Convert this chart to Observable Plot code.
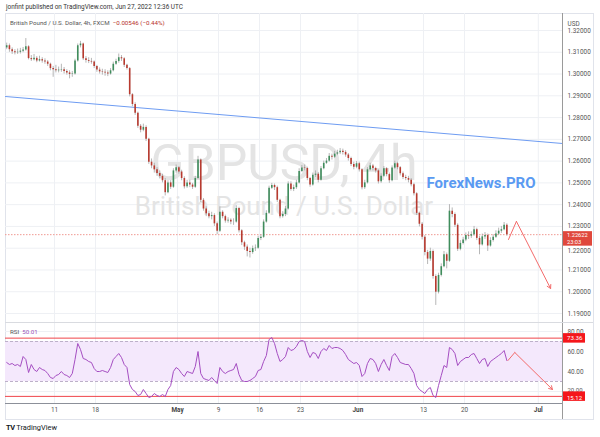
<!DOCTYPE html>
<html><head><meta charset="utf-8">
<script src="https://cdn.jsdelivr.net/npm/d3@7"></script>
<script src="https://cdn.jsdelivr.net/npm/@observablehq/plot@0.6"></script>
<style>
body{margin:0;background:#fff;font-family:Roboto,"Liberation Sans",sans-serif;}
#wrap{position:relative;width:600px;height:437px;overflow:hidden;background:#fff;}
.abs{position:absolute;line-height:1;white-space:nowrap;}
#wrap svg{position:absolute;left:0;}
</style></head><body><div id="wrap">
<div class="abs" style="left:5px;top:13px;width:587px;height:405px;border:1px solid #e0e3eb;"></div>
</div>
<script>
// ---- data (8h candles) ----
const open0 = 1.3120;
const close = [
1.3130,1.3112,1.3102,1.3098,1.3100,1.3105,1.3110,1.3125,1.3071,1.3066,
1.3072,1.3060,1.3066,1.3060,1.3055,1.3045,1.3025,1.3020,1.3015,1.3018,
1.3020,1.3012,1.3005,1.2998,1.3000,1.3060,1.3130,1.3138,1.3070,1.3062,
1.3058,1.3055,1.3035,1.3018,1.3010,1.3008,1.3005,1.3000,1.3015,1.3045,
1.3058,1.3075,1.3070,1.3040,1.3025,1.2905,1.2860,1.2820,1.2760,1.2742,
1.2755,1.2700,1.2595,1.2578,1.2560,1.2543,1.2530,1.2510,1.2455,1.2500,
1.2480,1.2555,1.2570,1.2550,1.2520,1.2482,1.2500,1.2490,1.2480,1.2520,
1.2605,1.2420,1.2380,1.2358,1.2345,1.2350,1.2312,1.2278,1.2365,1.2345,
1.2325,1.2328,1.2320,1.2320,1.2382,1.2280,1.2225,1.2205,1.2185,1.2180,
1.2198,1.2200,1.2245,1.2250,1.2320,1.2360,1.2475,1.2488,1.2478,1.2420,
1.2345,1.2355,1.2380,1.2495,1.2470,1.2478,1.2500,1.2552,1.2568,1.2566,
1.2520,1.2490,1.2535,1.2540,1.2512,1.2565,1.2590,1.2600,1.2622,1.2618,
1.2632,1.2638,1.2645,1.2640,1.2628,1.2612,1.2585,1.2572,1.2588,1.2560,
1.2478,1.2500,1.2560,1.2578,1.2566,1.2555,1.2505,1.2530,1.2565,1.2538,
1.2510,1.2568,1.2588,1.2570,1.2542,1.2525,1.2520,1.2512,1.2492,1.2450,
1.2360,1.2310,1.2250,1.2180,1.2150,1.2185,1.2070,1.1998,1.2075,1.2115,
1.2170,1.2140,1.2370,1.2355,1.2305,1.2195,1.2222,1.2238,1.2258,1.2255,
1.2262,1.2285,1.2245,1.2215,1.2252,1.2258,1.2210,1.2235,1.2250,1.2265,
1.2278,1.2285,1.2305,1.2262];
const high = [
1.3142,1.3138,1.3120,1.3112,1.3115,1.3118,1.3122,1.3163,1.3130,1.3085,
1.3090,1.3080,1.3082,1.3075,1.3070,1.3062,1.3050,1.3035,1.3040,1.3032,
1.3045,1.3030,1.3020,1.3015,1.3012,1.3068,1.3138,1.3150,1.3142,1.3080,
1.3075,1.3072,1.3060,1.3040,1.3028,1.3022,1.3020,1.3015,1.3025,1.3055,
1.3068,1.3092,1.3085,1.3075,1.3045,1.3030,1.2910,1.2868,1.2825,1.2768,
1.2770,1.2762,1.2705,1.2610,1.2590,1.2570,1.2555,1.2540,1.2520,1.2510,
1.2510,1.2565,1.2582,1.2575,1.2558,1.2528,1.2512,1.2512,1.2498,1.2530,
1.2622,1.2610,1.2428,1.2390,1.2370,1.2365,1.2358,1.2320,1.2390,1.2372,
1.2352,1.2340,1.2335,1.2335,1.2395,1.2388,1.2285,1.2232,1.2215,1.2200,
1.2210,1.2215,1.2255,1.2262,1.2330,1.2372,1.2485,1.2498,1.2495,1.2485,
1.2425,1.2368,1.2392,1.2505,1.2505,1.2490,1.2512,1.2565,1.2580,1.2582,
1.2572,1.2525,1.2545,1.2555,1.2548,1.2575,1.2600,1.2612,1.2635,1.2632,
1.2645,1.2650,1.2658,1.2655,1.2648,1.2635,1.2618,1.2595,1.2598,1.2595,
1.2565,1.2512,1.2570,1.2590,1.2585,1.2572,1.2560,1.2542,1.2575,1.2570,
1.2545,1.2578,1.2600,1.2595,1.2575,1.2550,1.2535,1.2530,1.2520,1.2498,
1.2455,1.2365,1.2318,1.2258,1.2190,1.2200,1.2192,1.2078,1.2085,1.2128,
1.2185,1.2178,1.2400,1.2385,1.2362,1.2312,1.2235,1.2250,1.2270,1.2275,
1.2275,1.2300,1.2292,1.2255,1.2265,1.2272,1.2265,1.2248,1.2262,1.2280,
1.2292,1.2300,1.2318,1.2312];
const low = [
1.3112,1.3100,1.3090,1.3088,1.3090,1.3092,1.3098,1.3105,1.3065,1.3058,
1.3060,1.3052,1.3055,1.3050,1.3045,1.3035,1.3015,1.2985,1.3005,1.3005,
1.3008,1.3000,1.2995,1.2978,1.2985,1.2995,1.3055,1.3120,1.3062,1.3050,
1.3048,1.3045,1.3025,1.3008,1.3000,1.2995,1.2990,1.2988,1.2995,1.3010,
1.3040,1.3050,1.3058,1.3030,1.3018,1.2895,1.2850,1.2810,1.2750,1.2730,
1.2735,1.2690,1.2585,1.2565,1.2545,1.2530,1.2518,1.2500,1.2440,1.2450,
1.2470,1.2475,1.2545,1.2540,1.2510,1.2472,1.2475,1.2478,1.2470,1.2475,
1.2515,1.2410,1.2370,1.2345,1.2335,1.2330,1.2300,1.2262,1.2272,1.2335,
1.2315,1.2315,1.2308,1.2305,1.2315,1.2270,1.2212,1.2190,1.2160,1.2155,
1.2172,1.2185,1.2195,1.2235,1.2245,1.2315,1.2355,1.2470,1.2465,1.2410,
1.2335,1.2338,1.2345,1.2375,1.2462,1.2460,1.2470,1.2495,1.2548,1.2555,
1.2510,1.2480,1.2485,1.2525,1.2500,1.2508,1.2560,1.2585,1.2595,1.2605,
1.2612,1.2625,1.2630,1.2628,1.2618,1.2600,1.2575,1.2560,1.2565,1.2550,
1.2468,1.2470,1.2495,1.2555,1.2555,1.2545,1.2495,1.2498,1.2525,1.2528,
1.2498,1.2505,1.2562,1.2560,1.2532,1.2515,1.2510,1.2500,1.2482,1.2440,
1.2350,1.2298,1.2238,1.2165,1.2125,1.2140,1.2058,1.1937,1.1990,1.2068,
1.2110,1.2105,1.2135,1.2340,1.2295,1.2185,1.2188,1.2215,1.2230,1.2240,
1.2245,1.2255,1.2235,1.2170,1.2210,1.2240,1.2185,1.2205,1.2228,1.2245,
1.2258,1.2268,1.2280,1.2255];
const rsi = [
49,47,48,46,47,45,55,52,39,47,
42,40,44,42,41,38,34,33,36,37,
40,37,36,34,38,52,68,62,53,52,
50,49,43,40,40,41,40,39,44,52,
55,58,54,47,44,27,22,20,16,17,
22,18,14,15,18,16,15,17,15,22,
26,40,44,42,38,35,40,39,38,45,
60,38,33,32,31,34,31,28,44,40,
38,40,41,42,48,37,31,30,30,31,
33,35,41,42,50,56,72,74,68,58,
50,52,55,64,61,62,65,70,71,70,
60,54,59,58,53,60,63,61,66,63,
64,64,63,61,57,52,50,48,49,46,
35,38,48,53,52,48,40,47,52,46,
41,55,58,54,49,48,47,47,43,38,
26,22,20,18,22,24,16,14,26,36,
46,44,64,62,58,46,50,52,54,54,
57,58,53,48,52,53,45,50,52,54,
56,58,61,51];
const priceTicks = [1.19,1.20,1.21,1.22,1.23,1.24,1.25,1.26,1.27,1.28,1.29,1.30,1.31,1.32];
const rsiTicks = [20,40,60,80];
const dateLabels = ["11","18","May","9","16","23","Jun","13","20","Jul"];
const dateDays = [6,11,21,26,31,36,43,51,56,65];
const lastPrice = 1.22622;
const countdown = "23:03";
const rsiLevels = [73.36, 15.12];
const trendX = [-0.44, 203.36], trendY = [1.28968, 1.26809];
const arrowX = [183.6, 186.5, 199.0], arrowY = [1.2240, 1.2323, 1.2015];
const rsiArrowX = [183.4, 185.9, 199.7], rsiArrowY = [51, 59, 22];
const noteX = 153.6, noteY = 1.2497;

// ---- derived ----
const bars = close.map((c, i) => ({i, o: i ? close[i-1] : open0, c, h: high[i], l: low[i]}));
const rsiData = rsi.map((v, i) => ({i, v}));
const tickX = dateDays.map(d => 3*d - 0.5);
const dates = dateLabels.map((label, k) => ({label, x: tickX[k], month: isNaN(+label)}));
const xDomain = [-0.44, 203.36];
const pxPerUnit = 557 / (xDomain[1] - xDomain[0]);
const pxPerPrice = 310 / (1.32781 - 1.18541);
const up = "#3f8d5c", down = "#b83a2f";
const font = "Roboto, 'Liberation Sans', sans-serif";
const baseStyle = {background: "transparent", fontFamily: font, fontSize: "6.4px", color: "#555", overflow: "visible"};
// the tick label that sits just under the last-price box is nudged down a little
const nearBox = d => Math.abs(d - 1.22) < 1e-9;

const main = Plot.plot({
  width: 600, height: 310, marginLeft: 5, marginRight: 38, marginTop: 0, marginBottom: 0,
  x: {domain: xDomain, axis: null},
  y: {domain: [1.18541, 1.32781], axis: null},
  style: baseStyle,
  marks: [
    Plot.gridX(tickX, {stroke: "#eef0f4", strokeOpacity: 1}),
    Plot.gridY(priceTicks, {stroke: "#eef0f4", strokeOpacity: 1}),
    Plot.text(["GBPUSD, 4h"], {frameAnchor: "top", dy: 131, fontSize: 50, fill: "#e4e4e4"}),
    Plot.text(["British Pound / U.S. Dollar"], {frameAnchor: "top", dy: 183, fontSize: 26, fill: "#e4e4e4"}),
    Plot.line(trendX.map((x, k) => ({x, y: trendY[k]})), {x: "x", y: "y", stroke: "#6e9cf2", strokeWidth: 1}),
    Plot.ruleY([lastPrice], {stroke: "#f09a92", strokeDasharray: "1.5,1.5"}),
    Plot.ruleX(bars, {x: "i", y1: "l", y2: "h", stroke: "#a3a3a3", strokeWidth: 0.8}),
    Plot.ruleX(bars.filter(d => d.c >= d.o), {x: "i", y1: "o", y2: "c", stroke: up, strokeWidth: 1.6}),
    Plot.ruleX(bars.filter(d => d.c < d.o), {x: "i", y1: "o", y2: "c", stroke: down, strokeWidth: 1.6}),
    Plot.line(arrowX.slice(0, 2).map((x, k) => ({x, y: arrowY[k]})), {x: "x", y: "y", stroke: "#f36b6b", strokeWidth: 1}),
    Plot.arrow([0], {x1: arrowX[1], y1: arrowY[1], x2: arrowX[2], y2: arrowY[2], stroke: "#f36b6b", strokeWidth: 1, headLength: 6}),
    Plot.text(["ForexNews.PRO"], {x: noteX, y: noteY, textAnchor: "start", fontSize: 15, fontWeight: "bold", fill: "#5a9af2"}),
    Plot.text(priceTicks.filter(d => !nearBox(d)), {y: d => d, frameAnchor: "right", dx: 5, textAnchor: "start", text: d => d.toFixed(5), fill: "#555"}),
    Plot.text(priceTicks.filter(nearBox), {y: d => d, frameAnchor: "right", dx: 5, dy: 2.6, textAnchor: "start", text: d => d.toFixed(5), fill: "#555"}),
    Plot.text(["USD"], {frameAnchor: "top-right", dx: 5, dy: 8, textAnchor: "start", fill: "#555"}),
    Plot.rect([lastPrice], {x1: xDomain[1] + 1/pxPerUnit, x2: xDomain[1] + 30/pxPerUnit, y1: d => d + 3/pxPerPrice, y2: d => d - 11.5/pxPerPrice, fill: "#e0483c"}),
    Plot.text([lastPrice], {y: d => d - 0.3/pxPerPrice, frameAnchor: "right", dx: 4.5, textAnchor: "start", text: d => d.toFixed(5), fill: "white", fontSize: 5.7}),
    Plot.text([lastPrice], {y: d => d - 7.2/pxPerPrice, frameAnchor: "right", dx: 4.5, textAnchor: "start", text: () => countdown, fill: "white", fontSize: 5.7})
  ]
});
main.style.top = "13px";

const rsiPlot = Plot.plot({
  width: 600, height: 96, marginLeft: 5, marginRight: 38, marginTop: 0, marginBottom: 16,
  x: {domain: xDomain, axis: null},
  y: {domain: [8, 88], axis: null},
  style: baseStyle,
  marks: [
    Plot.gridX(tickX, {stroke: "#eef0f4", strokeOpacity: 1}),
    Plot.gridY(rsiTicks, {stroke: "#eef0f4", strokeOpacity: 1}),
    Plot.rect([0], {x1: xDomain[0], x2: xDomain[1], y1: 30, y2: 70, fill: "#f4e8fc"}),
    Plot.ruleY([30, 70], {stroke: "#bdb0c9", strokeDasharray: "3,2"}),
    Plot.ruleY(rsiLevels, {stroke: "#f0454a", strokeWidth: 1}),
    Plot.line(rsiData, {x: "i", y: "v", stroke: "#a54ec2", strokeWidth: 1}),
    Plot.line(rsiArrowX.slice(0, 2).map((x, k) => ({x, y: rsiArrowY[k]})), {x: "x", y: "y", stroke: "#f36b6b", strokeWidth: 1}),
    Plot.arrow([0], {x1: rsiArrowX[1], y1: rsiArrowY[1], x2: rsiArrowX[2], y2: rsiArrowY[2], stroke: "#f36b6b", strokeWidth: 1, headLength: 6}),
    Plot.ruleY([8], {stroke: "#8c9099"}),
    Plot.text(rsiTicks.filter(d => d !== 20), {y: d => d, frameAnchor: "right", dx: 5, textAnchor: "start", text: d => d.toFixed(2), fill: "#555"}),
    Plot.text([20], {y: d => d, frameAnchor: "right", dx: 5, dy: -1.2, textAnchor: "start", text: d => d.toFixed(2), fill: "#555", fontSize: 6}),
    Plot.rect(rsiLevels, {x1: xDomain[1] + 1/pxPerUnit, x2: xDomain[1] + 23/pxPerUnit, y1: d => d + 4.5, y2: d => d - 5, fill: "#f5161b"}),
    Plot.text([rsiLevels[0]], {y: d => d, frameAnchor: "right", dx: 4.5, textAnchor: "start", text: d => d.toFixed(2), fill: "white", fontSize: 6.2}),
    Plot.text([rsiLevels[1]], {y: d => d, frameAnchor: "right", dx: 4.5, dy: 1.6, textAnchor: "start", text: d => d.toFixed(2), fill: "white", fontSize: 6}),
    Plot.text(dates.filter(d => !d.month), {x: "x", frameAnchor: "bottom", dy: 8, text: "label", fill: "#555"}),
    Plot.text(dates.filter(d => d.month), {x: "x", frameAnchor: "bottom", dy: 8, text: "label", fill: "#444", fontWeight: "bold"})
  ]
});
rsiPlot.style.top = "323px";

const wrap = document.getElementById("wrap");
wrap.appendChild(main);
wrap.appendChild(rsiPlot);
wrap.insertAdjacentHTML("beforeend", `
<div class="abs" style="left:562px;top:13px;width:1px;height:406px;background:#9a9a9a;"></div>
<div class="abs" style="left:5px;top:322px;width:588px;height:1px;background:#d9dbe0;"></div>
<div class="abs" style="left:6px;top:4px;font-size:6.4px;color:#333;">jonfint published on TradingView.com, Jun 27, 2022 12:36 UTC</div>
<div class="abs" style="left:10px;top:19.5px;font-size:6.2px;color:#555;">British Pound / U.S. Dollar, 4h, FXCM&nbsp; <span style="color:#b8322c">−0.00546 (−0.44%)</span></div>
<div class="abs" style="left:10px;top:329px;font-size:6.2px;color:#555;">RSI&nbsp; <span style="color:#9c55b8">50.01</span></div>
<div class="abs" style="left:6px;top:423.5px;font-size:7.4px;color:#131722;"><b style="letter-spacing:-0.5px">TV</b>&nbsp;TradingView</div>
`);
</script></body></html>
